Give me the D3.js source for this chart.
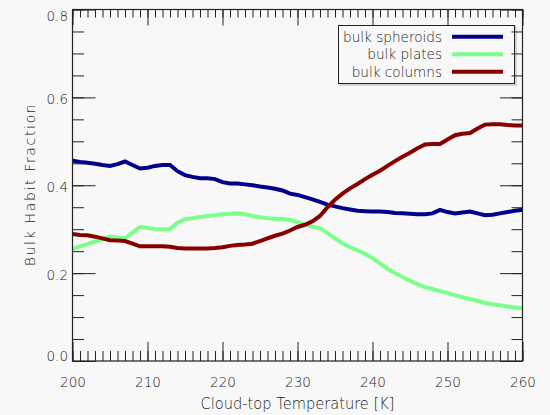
<!DOCTYPE html>
<html>
<head>
<meta charset="utf-8">
<script src="https://cdn.jsdelivr.net/npm/d3@7"></script>
<style>
  html, body { margin: 0; padding: 0; background: #f8f8f8; }
  svg { display: block; }
  text { font-family: "DejaVu Sans", sans-serif; font-weight: 200; fill: #1a1a1a; }
</style>
</head>
<body>
<svg id="chart" width="550" height="415"></svg>
<script>
// Cloud-top temperature (K), one sample per kelvin
const temperature = d3.range(200, 261, 1);

// Bulk habit fractions at each temperature
const spheroids = [
  0.456, 0.453, 0.451, 0.449, 0.446, 0.444, 0.448, 0.454, 0.446, 0.438,
  0.440, 0.444, 0.446, 0.446, 0.432, 0.423, 0.419, 0.416, 0.416, 0.414,
  0.407, 0.404, 0.404, 0.402, 0.400, 0.397, 0.395, 0.392, 0.388, 0.381,
  0.378, 0.373, 0.368, 0.362, 0.356, 0.352, 0.348, 0.345, 0.342, 0.341,
  0.340, 0.340, 0.339, 0.337, 0.336, 0.335, 0.334, 0.334, 0.336, 0.344,
  0.339, 0.336, 0.338, 0.340, 0.336, 0.332, 0.333, 0.336, 0.339, 0.342,
  0.344
];
const plates = [
  0.255, 0.261, 0.266, 0.272, 0.277, 0.283, 0.281, 0.279, 0.292, 0.305,
  0.303, 0.300, 0.300, 0.300, 0.315, 0.323, 0.325, 0.328, 0.330, 0.332,
  0.334, 0.335, 0.336, 0.334, 0.330, 0.327, 0.325, 0.324, 0.323, 0.321,
  0.316, 0.310, 0.306, 0.302, 0.291, 0.279, 0.268, 0.259, 0.252, 0.244,
  0.234, 0.222, 0.210, 0.200, 0.191, 0.183, 0.175, 0.168, 0.164, 0.159,
  0.155, 0.150, 0.145, 0.141, 0.137, 0.132, 0.129, 0.127, 0.124, 0.122,
  0.120
];
const columns = [
  0.289, 0.287, 0.286, 0.283, 0.279, 0.275, 0.274, 0.273, 0.267, 0.261,
  0.261, 0.261, 0.261, 0.260, 0.257, 0.256, 0.256, 0.256, 0.256, 0.257,
  0.259, 0.262, 0.264, 0.265, 0.267, 0.273, 0.279, 0.285, 0.290, 0.297,
  0.305, 0.310, 0.318, 0.330, 0.350, 0.367, 0.381, 0.393, 0.403, 0.414,
  0.424, 0.433, 0.444, 0.455, 0.465, 0.474, 0.484, 0.493, 0.494, 0.494,
  0.504, 0.514, 0.517, 0.519, 0.529, 0.538, 0.539, 0.539, 0.537, 0.536,
  0.536
];

const seriesNames = ["bulk spheroids", "bulk plates", "bulk columns"];
const seriesColors = ["#00008a", "#7cff8a", "#870000"];

const xMajorTicks = [200, 210, 220, 230, 240, 250, 260];
const yMajorTicks = [0.0, 0.2, 0.4, 0.6, 0.8];

const xTitle = "Cloud-top Temperature [K]";
const yTitle = "Bulk Habit Fraction";

// Plot frame
const plotLeft = 72.5, plotRight = 522.5, plotTop = 9.5, plotBottom = 361;

const svg = d3.select("#chart");

const x = d3.scaleLinear().domain([200, 260]).range([plotLeft, plotRight]);
const y = d3.scaleLinear().domain([0, 0.8]).range([plotBottom, plotTop]);

// Data lines
const line = d3.line()
  .x((d, i) => x(temperature[i]))
  .y(d => y(d));

const allSeries = [spheroids, plates, columns];
svg.append("g").selectAll("path")
  .data(allSeries)
  .join("path")
  .attr("d", d => line(d))
  .attr("fill", "none")
  .attr("stroke", (d, i) => seriesColors[i])
  .attr("stroke-width", 4)
  .attr("stroke-linejoin", "miter");

// Legend box
const lg = { x: 338.5, y: 25.5, w: 176, h: 58 };
const legend = svg.append("g");
legend.append("rect")
  .attr("x", lg.x + 1.5).attr("y", lg.y + 1.5)
  .attr("width", lg.w).attr("height", lg.h)
  .attr("fill", "none").attr("stroke", "#b0b0b0").attr("stroke-width", 1);
legend.append("rect")
  .attr("x", lg.x).attr("y", lg.y)
  .attr("width", lg.w).attr("height", lg.h)
  .attr("fill", "#f8f8f8").attr("stroke", "#222").attr("stroke-width", 1);

const rowY = [36.7, 54.3, 71.7];
seriesNames.forEach((name, i) => {
  legend.append("text")
    .attr("x", 442).attr("y", rowY[i])
    .attr("dy", "0.36em")
    .attr("text-anchor", "end")
    .style("font-size", "13.6px")
    .text(name);
  legend.append("line")
    .attr("x1", 452).attr("x2", 503)
    .attr("y1", rowY[i]).attr("y2", rowY[i])
    .attr("stroke", seriesColors[i])
    .attr("stroke-width", 4);
});

// Axes: major and minor ticks pointing inward on all four sides
const axisStyle = g => {
  g.select(".domain").remove();
  g.selectAll(".tick line").attr("stroke", "#222");
};

const xMinor = d3.range(200, 261, 1);
const yMinor = d3.range(0, 0.8001, 0.05).map(v => +v.toFixed(2));

// bottom
svg.append("g").attr("transform", `translate(0,${plotBottom})`)
  .call(d3.axisBottom(x).tickValues(xMinor).tickSize(-10).tickFormat(""))
  .call(axisStyle);
const xb = svg.append("g").attr("transform", `translate(0,${plotBottom})`)
  .call(d3.axisBottom(x).tickValues(xMajorTicks).tickSize(-19).tickPadding(16).tickFormat(d3.format("d")))
  .call(axisStyle);
xb.selectAll("text")
  .style("font-size", "13.5px")
  .attr("fill", "#1a1a1a");

// top
svg.append("g").attr("transform", `translate(0,${plotTop})`)
  .call(d3.axisTop(x).tickValues(xMinor).tickSize(-8).tickFormat(""))
  .call(axisStyle);
svg.append("g").attr("transform", `translate(0,${plotTop})`)
  .call(d3.axisTop(x).tickValues(xMajorTicks).tickSize(-16).tickFormat(""))
  .call(axisStyle);

// left
svg.append("g").attr("transform", `translate(${plotLeft},0)`)
  .call(d3.axisLeft(y).tickValues(yMinor).tickSize(-11.5).tickFormat(""))
  .call(axisStyle);
const yl = svg.append("g").attr("transform", `translate(${plotLeft},0)`)
  .call(d3.axisLeft(y).tickValues(yMajorTicks).tickSize(-23).tickPadding(4.5).tickFormat(d3.format(".1f")))
  .call(axisStyle);
yl.selectAll("text")
  .style("font-size", "13.5px")
  .attr("fill", "#1a1a1a")
  .attr("dy", "0.36em")
  .attr("y", d => {
    const ty = y(d);
    const c = Math.max(plotTop + 6, Math.min(plotBottom - 5.5, ty + 1.5));
    return c - ty;
  });

// right
svg.append("g").attr("transform", `translate(${plotRight},0)`)
  .call(d3.axisRight(y).tickValues(yMinor).tickSize(-11).tickFormat(""))
  .call(axisStyle);
svg.append("g").attr("transform", `translate(${plotRight},0)`)
  .call(d3.axisRight(y).tickValues(yMajorTicks).tickSize(-22.5).tickFormat(""))
  .call(axisStyle);

// Frame
svg.append("rect")
  .attr("x", plotLeft).attr("y", plotTop)
  .attr("width", plotRight - plotLeft).attr("height", plotBottom - plotTop)
  .attr("fill", "none").attr("stroke", "#222").attr("stroke-width", 1.2);

// Axis titles
svg.append("text")
  .attr("x", (plotLeft + plotRight) / 2).attr("y", 409)
  .attr("text-anchor", "middle")
  .attr("textLength", 194).attr("lengthAdjust", "spacingAndGlyphs")
  .style("font-size", "15px")
  .text(xTitle);

svg.append("text")
  .attr("transform", `translate(35,${(plotTop + plotBottom) / 2}) rotate(-90)`)
  .attr("text-anchor", "middle")
  .attr("textLength", 162).attr("lengthAdjust", "spacing")
  .style("font-size", "14px")
  .text(yTitle);
</script>
</body>
</html>
